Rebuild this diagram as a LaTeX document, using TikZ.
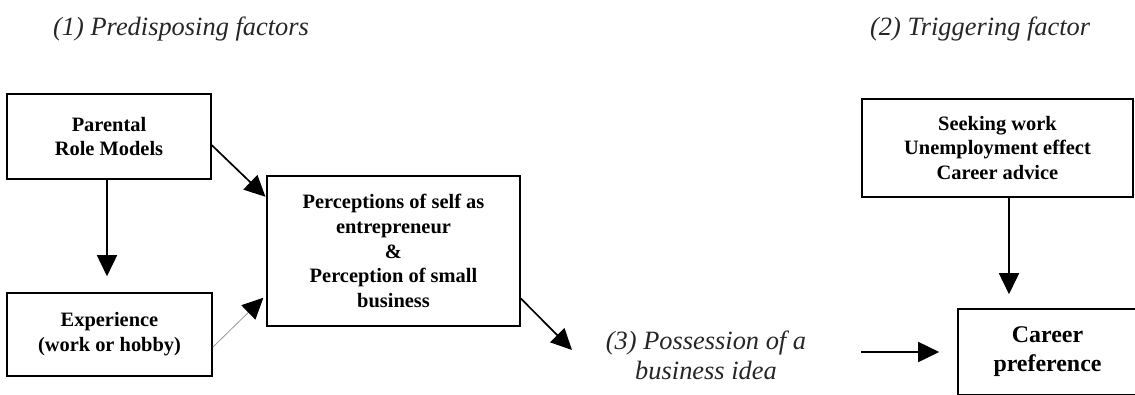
\documentclass[tikz,border=0pt]{standalone}
\usepackage{fontspec}
\usetikzlibrary{arrows.meta,calc}
\newfontfamily\boxfont{Liberation Serif}
\begin{document}
\begin{tikzpicture}[x=1bp,y=-1bp,
  box/.style={draw=black, line width=1.6bp, rectangle, align=center, inner sep=0pt,
    font=\boxfont\bfseries\fontsize{20.5}{25}\selectfont},
  labeltext/.style={inner sep=0pt, font=\boxfont\itshape\fontsize{26.5}{30}\selectfont, text=black!85},
  heading/.style={labeltext, anchor=base west},
  arr/.style={draw=black, line width=1.7bp, -{Triangle[length=21bp,width=20bp]}},
  faint/.style={draw=black!40, line width=0.8bp, -{Triangle[length=21bp,width=20bp,color=black]}}]
\clip (0,0) rectangle (1135,394);
\fill[white] (0,0) rectangle (1135,394);

% section headings
\node[heading] (h1) at (53,35) {(1) Predisposing factors};
\node[heading] (h2) at (870,35) {(2) Triggering factor};

% predisposing factors
\node[box, minimum width=204bp, minimum height=85bp] (par) at (109,136.5) {Parental\\Role Models};
\node[box, minimum width=205bp, minimum height=83bp] (exp) at (109.5,334.5) {Experience\\(work or hobby)};
\node[box, minimum width=253bp, minimum height=150bp] (per) at (393.5,251)
  {Perceptions of self as\\entrepreneur\\\&\\Perception of small\\business};

% triggering factor
\node[box, minimum width=271bp, minimum height=98bp] (seek) at (997.5,148)
  {Seeking work\\Unemployment effect\\Career advice};
\node[box, minimum width=179bp, minimum height=86bp,
  font=\boxfont\bfseries\fontsize{24}{29}\selectfont] (car) at (1047.5,352) {Career\\preference};

% business idea
\node[labeltext, align=center] (idea) at (706,355) {(3) Possession of a\\business idea};
\coordinate (ideatip) at (572,350);

% connectors
\draw[arr, shorten >=16bp] ([xshift=-2bp]par.south) -- ([xshift=-2.5bp]exp.north);
\draw[arr, shorten >=1bp] ($(par.north east)!0.6!(par.south east)$) -- ($(per.north west)!0.147!(per.south west)$);
\draw[faint, shorten >=4bp] ($(exp.north east)!0.65!(exp.south east)$) -- ($(per.north west)!0.79!(per.south west)$);
\draw[arr] ($(per.north east)!0.813!(per.south east)$) -- (ideatip);
\draw[arr, shorten <=55bp, shorten >=18bp] (idea.east |- car.west) -- (car.west);
\draw[arr, shorten >=14bp] ([xshift=11.5bp]seek.south) -- ([xshift=11.5bp]seek.south |- car.north);
\end{tikzpicture}
\end{document}
